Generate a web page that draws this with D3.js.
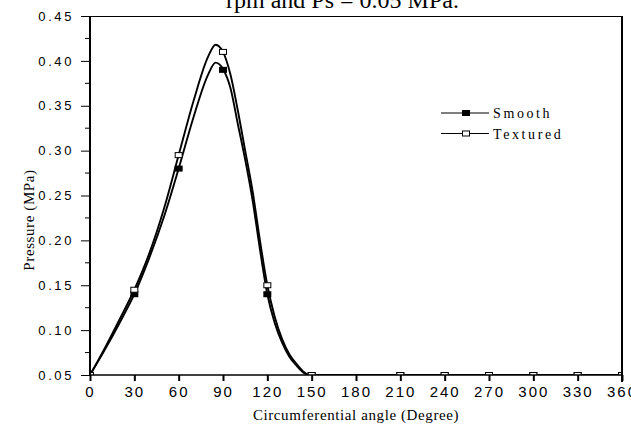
<!DOCTYPE html>
<html>
<head>
<meta charset="utf-8">
<script src="https://cdn.jsdelivr.net/npm/d3@7"></script>
<style>
  body { margin: 0; background: #fff; }
  svg { display: block; font-family: 'Liberation Serif', 'Times New Roman', serif; }
  .tick-y { font-size: 13px; letter-spacing: 2.6px; }
  .tick-x { font-size: 15px; letter-spacing: 2px; }
  .axis-title { font-size: 15px; letter-spacing: 0.6px; }
  .legend-text { font-size: 14px; letter-spacing: 2.6px; }
</style>
</head>
<body>
<div id="chart"></div>
<script>
// curve samples (degree, MPa)
const smoothAngles = [0, 10, 20, 30, 40, 50, 60, 70, 80, 85, 90, 95, 100, 105, 110, 115, 120, 125, 130, 135, 140, 145, 148, 180, 240, 300, 360];
const smoothValues = [0.05, 0.078, 0.108, 0.14, 0.18, 0.226, 0.28, 0.337, 0.385, 0.398, 0.391, 0.37, 0.33, 0.29, 0.245, 0.19, 0.14, 0.108, 0.086, 0.07, 0.06, 0.052, 0.05, 0.05, 0.05, 0.05, 0.05];
const texturedAngles = [0, 10, 20, 30, 40, 50, 60, 70, 80, 85, 90, 95, 100, 105, 110, 115, 120, 125, 130, 135, 140, 145, 148, 180, 240, 300, 360];
const texturedValues = [0.05, 0.08, 0.112, 0.145, 0.185, 0.235, 0.295, 0.355, 0.405, 0.418, 0.41, 0.385, 0.345, 0.3, 0.255, 0.2, 0.15, 0.115, 0.09, 0.073, 0.062, 0.053, 0.05, 0.05, 0.05, 0.05, 0.05];

// symbols are only drawn every 30 degrees (none at 180)
const markerAngles = [0, 30, 60, 90, 120, 150, 210, 240, 270, 300, 330, 360];
const smoothMarkers = [0.05, 0.14, 0.28, 0.39, 0.14, 0.05, 0.05, 0.05, 0.05, 0.05, 0.05, 0.05];
const texturedMarkers = [0.05, 0.145, 0.295, 0.41, 0.15, 0.05, 0.05, 0.05, 0.05, 0.05, 0.05, 0.05];

const xTicks = [0, 30, 60, 90, 120, 150, 180, 210, 240, 270, 300, 330, 360];
const yTicks = [0.05, 0.10, 0.15, 0.20, 0.25, 0.30, 0.35, 0.40, 0.45];
const yMinorTicks = [0.075, 0.125, 0.175, 0.225, 0.275, 0.325, 0.375, 0.425];

const seriesNames = ['Smooth', 'Textured'];

const width = 631, height = 428;
const margin = {top: 16, right: 9, bottom: 53, left: 90};
const innerW = width - margin.left - margin.right;
const innerH = height - margin.top - margin.bottom;

const x = d3.scaleLinear().domain([0, 360]).range([0, innerW]);
const y = d3.scaleLinear().domain([0.05, 0.45]).range([innerH, 0]);

const svg = d3.select('#chart').append('svg')
    .attr('width', width)
    .attr('height', height);

// cropped title at the very top
svg.append('text')
    .attr('x', 226)
    .attr('y', 8)
    .style('font-size', '24px')
    .text('rpm and Ps = 0.05 MPa.');

const g = svg.append('g')
    .attr('transform', `translate(${margin.left},${margin.top})`);

g.append('clipPath').attr('id', 'plot-clip')
  .append('rect')
    .attr('x', 0).attr('y', -5)
    .attr('width', innerW).attr('height', innerH + 5);

const plot = g.append('g').attr('clip-path', 'url(#plot-clip)');

const line = d3.line()
    .x(d => x(d[0]))
    .y(d => y(d[1]))
    .curve(d3.curveMonotoneX);

const smoothData = d3.zip(smoothAngles, smoothValues);
const texturedData = d3.zip(texturedAngles, texturedValues);

plot.append('path')
    .datum(smoothData)
    .attr('d', line)
    .attr('fill', 'none')
    .attr('stroke', '#000')
    .attr('stroke-width', 1.9);
plot.append('path')
    .datum(texturedData)
    .attr('d', line)
    .attr('fill', 'none')
    .attr('stroke', '#000')
    .attr('stroke-width', 1.9);

const mw = 8, mh = 6;
plot.selectAll('.m-smooth')
    .data(d3.zip(markerAngles, smoothMarkers))
    .join('rect')
      .attr('class', 'm-smooth')
      .attr('x', d => x(d[0]) - mw / 2)
      .attr('y', d => y(d[1]) - mh / 2)
      .attr('width', mw).attr('height', mh)
      .attr('fill', '#000');
plot.selectAll('.m-textured')
    .data(d3.zip(markerAngles, texturedMarkers))
    .join('rect')
      .attr('class', 'm-textured')
      .attr('x', d => x(d[0]) - mw / 2 + 0.5)
      .attr('y', d => y(d[1]) - mh / 2 + 0.5)
      .attr('width', mw - 1).attr('height', mh - 1)
      .attr('fill', '#fff')
      .attr('stroke', '#000')
      .attr('stroke-width', 1);

// frame: thin top/bottom, heavy left/right
g.append('line').attr('x1', 0).attr('x2', innerW).attr('y1', 0.5).attr('y2', 0.5)
    .attr('stroke', '#000').attr('stroke-width', 1);
g.append('line').attr('x1', 0).attr('x2', innerW).attr('y1', innerH).attr('y2', innerH)
    .attr('stroke', '#000').attr('stroke-width', 1.3);
g.append('line').attr('x1', 0).attr('x2', 0).attr('y1', 0).attr('y2', innerH + 1)
    .attr('stroke', '#000').attr('stroke-width', 2);
g.append('line').attr('x1', innerW).attr('x2', innerW).attr('y1', 0).attr('y2', innerH + 7)
    .attr('stroke', '#000').attr('stroke-width', 2);

// y axis
const yAxis = d3.axisLeft(y)
    .tickValues(yTicks)
    .tickSize(9)
    .tickPadding(7)
    .tickFormat(d3.format('.2f'));
const yAxisG = g.append('g').call(yAxis);
yAxisG.select('.domain').remove();
yAxisG.selectAll('text').attr('class', 'tick-y').attr('fill', '#000').attr('font-family', null).attr('font-size', null);
g.append('g').selectAll('line')
    .data(yMinorTicks)
    .join('line')
      .attr('x1', -5).attr('x2', 0)
      .attr('y1', d => y(d)).attr('y2', d => y(d))
      .attr('stroke', '#000');

// x axis
const xAxis = d3.axisBottom(x)
    .tickValues(xTicks)
    .tickSize(6)
    .tickPadding(5);
const xAxisG = g.append('g')
    .attr('transform', `translate(0,${innerH})`)
    .call(xAxis);
xAxisG.select('.domain').remove();
xAxisG.selectAll('line').attr('stroke-width', 2);
xAxisG.selectAll('text').attr('class', 'tick-x').attr('fill', '#000').attr('font-family', null).attr('font-size', null);

// axis titles
svg.append('text')
    .attr('class', 'axis-title')
    .attr('x', margin.left + innerW / 2)
    .attr('y', 420)
    .attr('text-anchor', 'middle')
    .text('Circumferential angle (Degree)');
svg.append('text')
    .attr('class', 'axis-title')
    .attr('transform', 'translate(34,220) rotate(-90)')
    .attr('text-anchor', 'middle')
    .text('Pressure (MPa)');

// legend
const legend = svg.append('g');
seriesNames.forEach((name, i) => {
    const ly = 113 + i * 20.5;
    legend.append('line')
        .attr('x1', 441).attr('x2', 489)
        .attr('y1', ly).attr('y2', ly)
        .attr('stroke', '#000').attr('stroke-width', 1.2);
    const r = legend.append('rect')
        .attr('x', 462 + (i ? 0.5 : 0)).attr('y', ly - 3 + (i ? 0.5 : 0))
        .attr('width', i ? 7 : 8).attr('height', i ? 5 : 6);
    if (i) r.attr('fill', '#fff').attr('stroke', '#000');
    else r.attr('fill', '#000');
    legend.append('text')
        .attr('class', 'legend-text')
        .attr('x', 493)
        .attr('y', ly + 5)
        .text(name);
});
</script>
</body>
</html>
